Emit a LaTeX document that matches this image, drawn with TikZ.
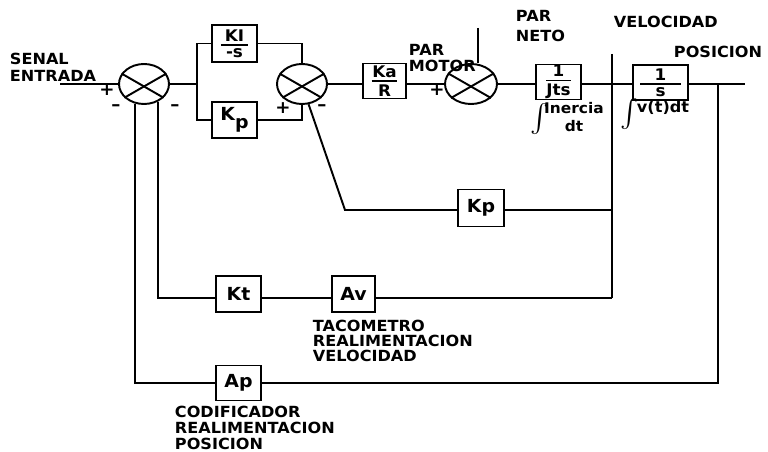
\documentclass[tikz,border=0pt]{standalone}
\usepackage{fontspec}
\setmainfont{DejaVu Sans}[FakeStretch=1.05]
\usetikzlibrary{shapes.geometric}
\newcommand\myfr[3][0.15em]{\vbox{\offinterlineskip\halign{\hfil##\hfil\cr\hspace{#1}#2\hspace{#1}\cr\noalign{\kern2pt\hrule height 1.2pt\kern2pt}#3\cr}}}
\begin{document}
\begin{tikzpicture}[x=0.75pt,y=-0.75pt,line width=1.45pt,
  blk/.style={draw,inner sep=0pt,minimum width=33.75pt,minimum height=27pt,font=\bfseries\fontsize{13.5}{13.5}\selectfont},
  fblk/.style={blk,font=\bfseries\fontsize{12}{12}\selectfont},
  sumj/.style={draw,ellipse,inner sep=0pt,minimum width=37.5pt,minimum height=30pt},
  lbl/.style={inner sep=0pt,anchor=north west,align=left,font=\bfseries\fontsize{11.5}{12}\selectfont},
  sgn/.style={inner sep=0pt,font=\bfseries\fontsize{13}{13}\selectfont},
  intg/.style={inner sep=0pt,font=\fontsize{10}{10}\selectfont}]
\useasboundingbox (0,0) rectangle (768,452);
% summing junctions
\node[sumj] (s1) at (144,84) {};
\node[sumj] (s2) at (302,84) {};
\node[sumj,minimum width=39pt] (s3) at (471,84) {};
\foreach \s in {s1,s2,s3}{
  \draw (\s.155) -- (\s.-35);
  \draw (\s.215) -- (\s.25);
}
% blocks
\node[fblk,minimum height=27.75pt] (ki) at (234.5,43.5) {\myfr[0.25em]{KI}{-s}};
\node[blk] (kp) at (234.5,120) {K\raisebox{-6pt}{p}};
\node[fblk,minimum width=32.25pt,minimum height=26.25pt] (ka) at (384.5,81) {\myfr[0.05em]{Ka}{R}};
\node[fblk,minimum height=26.25pt] (jts) at (558.5,82) {\myfr{1}{Jts}};
\node[fblk,minimum width=41.25pt,minimum height=26.25pt] (ints) at (660.5,82.5) {\myfr[0.9em]{1}{s}};
\node[blk,minimum width=34.5pt,minimum height=27.75pt] (kp2) at (481,208) {Kp};
\node[blk] (kt) at (238.5,294) {Kt};
\node[blk,minimum width=32.25pt] (av) at (353.5,294) {Av};
\node[blk,minimum height=26.25pt] (ap) at (238.5,383) {Ap};
% coordinates
\coordinate (in) at (60,84);
\coordinate (split) at (197,84);
\coordinate (d) at (478,28);
\coordinate (out) at (745,84);
\coordinate (vtop) at (612,54);
\coordinate (vbot) at (612,298);
\coordinate (pos) at (718,84);
\coordinate (c1) at (345,210);
% forward path
\draw (in) -- (s1.west);
\draw (s1.east) -- (split);
\draw (ki.west) -| (split) |- (kp.west);
\draw (ki.east) -| (s2.north);
\draw (kp.east) -| (s2.south);
\draw (s2.east) -- (s2.east -| ka.west);
\draw (s3.west -| ka.east) -- (s3.west);
\draw (d) -- (d |- s3.north);
\draw (s3.east) -- (s3.east -| jts.west);
\draw (s3.east -| jts.east) -- (s3.east -| ints.west);
\draw (s3.east -| ints.east) -- (out);
% feedback
\draw (vtop) -- (vbot);
\draw (pos) |- (ap.east);
\draw (kp2.east |- c1) -- (c1 -| vtop);
\draw (kp2.west |- c1) -- (c1) -- (s2.-72.8);
\draw (s1.-52.6) |- (kt.west |- vbot);
\draw (kt.east |- vbot) -- (av.west |- vbot);
\draw (av.east |- vbot) -- (vbot);
\draw (s1.-115.7) |- (ap.west);
% signs
\node[sgn] (p1) at (107,90) {+};
\node[sgn] (m1) at (116,108) {–};
\node[sgn] (m2) at (175,108) {–};
\node[sgn] (p2) at (283,108) {+};
\node[sgn] (m3) at (322,108) {–};
\node[sgn] (p3) at (437,90) {+};
% labels
\node[lbl] (t1) at (9,52) {SENAL\\[1pt]ENTRADA};
\node[lbl] (t2) at (408,43) {PAR\\MOTOR};
\node[lbl,font=\bfseries\fontsize{11.5}{15}\selectfont] (t3) at (515,9) {PAR\\NETO};
\node[lbl] (t4) at (613,15) {VELOCIDAD};
\node[lbl] (t5) at (673,45) {POSICION};
\node[intg] (i1) at (540,119) {\scalebox{2.1}{$\int$}};
\node[inner sep=0pt,align=center,font=\bfseries\fontsize{11}{13.5}\selectfont] (t6) at (574,117) {Inercia\\dt};
\node[intg] (i2) at (630,114) {\scalebox{2.1}{$\int$}};
\node[inner sep=0pt,anchor=west,font=\bfseries\fontsize{11.5}{12}\selectfont] (t7) at (636,108) {v(t)dt};
\node[lbl,font=\bfseries\fontsize{11.5}{11.25}\selectfont] (t8) at (312,319) {TACOMETRO\\REALIMENTACION\\VELOCIDAD};
\node[lbl,font=\bfseries\fontsize{11.5}{12}\selectfont] (t9) at (174,405) {CODIFICADOR\\REALIMENTACION\\POSICION};
\end{tikzpicture}
\end{document}
